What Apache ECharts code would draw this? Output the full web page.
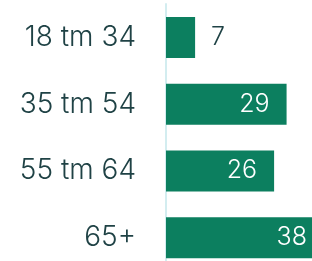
<!DOCTYPE html>
<html>
<head>
<meta charset="utf-8">
<style>
  html, body { margin: 0; padding: 0; background: #fff; }
  #main { width: 312px; height: 261px; }
</style>
<script src="https://cdn.jsdelivr.net/npm/echarts@6/dist/echarts.min.js"></script>
</head>
<body>
<div id="main"></div>
<script>
const categories = ['18 tm 34', '35 tm 54', '55 tm 64', '65+'];
const values = [7, 29, 26, 38];

const textColor = '#1f4245';
const barColor = '#0c7f5f';

const chart = echarts.init(document.getElementById('main'), null, { renderer: 'canvas' });

chart.setOption({
  animation: false,
  grid: { left: 166, right: -12, top: 4, bottom: -10, outerBoundsMode: 'none' },
  xAxis: {
    type: 'value',
    min: 0,
    max: 38,
    show: false
  },
  yAxis: {
    type: 'category',
    data: categories,
    inverse: true,
    axisTick: { show: false },
    axisLine: { lineStyle: { color: '#d3edf0', width: 2 } },
    axisLabel: {
      margin: 30,
      color: textColor,
      fontFamily: 'Inter',
      fontWeight: 300,
      fontSize: 28
    }
  },
  series: [{
    type: 'bar',
    barWidth: 41,
    clip: false,
    itemStyle: { color: barColor },
    data: values.map(v => ({
      value: v,
      label: v < 10
        ? { position: 'right', distance: 16, color: textColor }
        : { position: 'insideRight', distance: 17, color: '#fff' }
    })),
    label: {
      show: true,
      fontFamily: 'Inter',
      fontWeight: 300,
      fontSize: 25
    }
  }]
});
</script>
</body>
</html>
